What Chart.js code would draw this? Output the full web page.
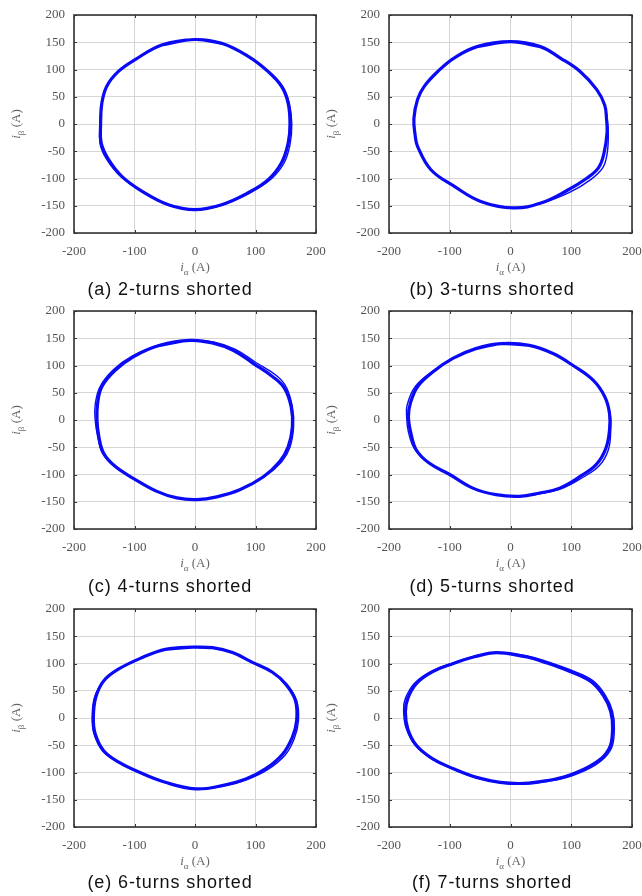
<!DOCTYPE html>
<html>
<head>
<meta charset="utf-8">
<script src="https://cdn.jsdelivr.net/npm/chart.js@4.4.1/dist/chart.umd.min.js"></script>
<style>
  body { margin: 0; background: #fff; width: 642px; height: 896px; position: relative; overflow: hidden; }
  .box { position: absolute; }
  .cap { position: absolute; font-family: "Liberation Sans", Arial, sans-serif; font-size: 18px; color: #111;
         letter-spacing: 0.9px; white-space: nowrap; transform: translateX(-50%); }
  .xt { position: absolute; font-family: "Liberation Serif", serif; font-size: 13px; color: #666;
        white-space: nowrap; transform: translateX(-50%); }
  .yt { position: absolute; font-family: "Liberation Serif", serif; font-size: 13px; color: #666;
        white-space: nowrap; transform: translate(-50%, -50%) rotate(-90deg); }
  sub { font-size: 9px; vertical-align: -4px; }
</style>
</head>
<body>
<div class="box" id="wa"><canvas id="ca"></canvas></div>
<div class="box" id="wb"><canvas id="cb"></canvas></div>
<div class="box" id="wc"><canvas id="cc"></canvas></div>
<div class="box" id="wd"><canvas id="cd"></canvas></div>
<div class="box" id="we"><canvas id="ce"></canvas></div>
<div class="box" id="wf"><canvas id="cf"></canvas></div>
<script>
// tick values shared by every panel
const tickValues = [-200, -150, -100, -50, 0, 50, 100, 150, 200];
const xTickValues = [-200, -100, 0, 100, 200];

const captions = ['(a) 2-turns shorted', '(b) 3-turns shorted', '(c) 4-turns shorted',
                  '(d) 5-turns shorted', '(e) 6-turns shorted', '(f) 7-turns shorted'];

// i_alpha / i_beta current locus
// second arrays = an adjacent cycle, only differs where the band spreads
const alphaA  = [0, -55, -99, -127, -146, -154, -156, -155, -143, -121, -88, -44, 0, 44, 88, 121, 143, 154, 157, 154, 143, 121, 88, 44, 0];
const betaA   = [155, 145, 118, 96, 69, 38, 0, -35, -65, -96, -123, -148, -157, -148, -126, -102, -71, -35, 0, 38, 69, 96, 124, 148, 155];
const alphaA2 = [0, -55, -99, -127, -146, -154, -157, -157, -147, -124, -90, -44, 0, 44, 90, 125, 147, 157, 160, 156, 145, 122, 88, 44, 0];
const betaA2  = [155, 145, 118, 96, 69, 38, 0, -36, -63, -95, -122, -149, -157, -149, -127, -102, -72, -38, 0, 38, 69, 96, 124, 148, 155];

const alphaB  = [0, -55, -93, -120, -142, -153, -159, -157, -153, -131, -93, -49, 5, 50, 93, 125, 145, 154, 159, 158, 155, 142, 115, 82, 49, 0];
const betaB   = [151, 142, 121, 96, 69, 45, 10, -20, -41, -84, -114, -142, -154, -145, -122, -100, -80, -53, -15, 10, 35, 63, 96, 121, 142, 151];
const alphaB2 = [0, -55, -93, -120, -142, -153, -159, -157, -153, -131, -93, -49, 5, 52, 98, 132, 152, 159, 161, 159, 155, 142, 115, 82, 49, 0];
const betaB2  = [151, 142, 121, 96, 69, 45, 10, -20, -41, -84, -114, -142, -154, -145, -125, -102, -80, -55, -20, 10, 35, 63, 96, 121, 142, 151];

const alphaC  = [-8, -58, -102, -132, -154, -161, -162, -159, -151, -132, -102, -63, -30, 3, 36, 74, 113, 140, 154, 161, 159, 148, 129, 96, 63, 30, -8];
const betaC   = [146, 137, 116, 91, 61, 30, 0, -30, -61, -85, -107, -131, -143, -146, -141, -128, -104, -76, -49, -12, 24, 58, 79, 104, 128, 141, 146];
const alphaC2 = [-8, -58, -104, -135, -157, -165, -165, -161, -153, -134, -102, -63, -30, 3, 36, 74, 115, 143, 157, 163, 161, 151, 134, 100, 66, 32, -8];
const betaC2  = [146, 138, 117, 92, 61, 28, 0, -30, -61, -85, -107, -131, -143, -146, -141, -128, -104, -77, -50, -12, 24, 60, 82, 106, 130, 143, 146];

const alphaD  = [-15, -57, -95, -128, -153, -165, -168, -164, -155, -134, -100, -62, -24, 15, 48, 81, 114, 141, 157, 163, 163, 155, 136, 103, 70, 31, -15];
const betaD   = [140, 131, 113, 88, 61, 30, 6, -24, -55, -79, -100, -125, -137, -140, -134, -125, -104, -82, -52, -18, 12, 43, 73, 100, 122, 137, 140];
const alphaD2 = [-15, -57, -95, -130, -157, -170, -171, -168, -158, -136, -100, -62, -24, 15, 50, 84, 118, 146, 161, 165, 164, 155, 136, 103, 70, 31, -15];
const betaD2  = [140, 131, 113, 88, 61, 28, 6, -22, -53, -78, -100, -125, -137, -140, -135, -126, -106, -84, -55, -20, 12, 43, 73, 100, 122, 137, 140];

const alphaE  = [-4, -49, -87, -126, -151, -164, -168, -165, -151, -126, -93, -49, 1, 45, 84, 117, 145, 161, 168, 166, 150, 128, 95, 62, 29, -4];
const betaE   = [130, 126, 111, 90, 68, 38, 1, -29, -60, -81, -99, -118, -130, -124, -112, -93, -66, -35, -5, 32, 62, 84, 102, 120, 129, 130];
const alphaE2 = [-4, -49, -87, -126, -151, -166, -170, -167, -153, -127, -93, -49, 1, 45, 86, 120, 149, 164, 171, 168, 152, 129, 95, 62, 29, -4];
const betaE2  = [130, 126, 111, 90, 68, 38, 1, -29, -60, -81, -99, -118, -130, -125, -113, -95, -68, -38, -5, 32, 62, 84, 102, 120, 129, 130];

const alphaF  = [-23, -61, -94, -128, -155, -169, -173, -169, -155, -128, -94, -56, -17, 22, 60, 94, 137, 162, 168, 165, 153, 132, 94, 60, 27, -23];
const betaF   = [120, 112, 100, 85, 63, 36, 11, -20, -50, -75, -93, -109, -118, -120, -115, -106, -84, -57, -20, 12, 41, 67, 87, 101, 112, 120];
const alphaF2 = [-23, -61, -94, -130, -158, -173, -176, -172, -157, -129, -94, -56, -17, 22, 62, 96, 140, 165, 171, 168, 156, 135, 97, 62, 28, -23];
const betaF2  = [120, 113, 101, 86, 64, 36, 14, -18, -50, -75, -94, -110, -119, -121, -116, -108, -86, -58, -20, 12, 42, 69, 89, 103, 114, 120];

const series = [
  [alphaA, betaA, alphaA2, betaA2], [alphaB, betaB, alphaB2, betaB2],
  [alphaC, betaC, alphaC2, betaC2], [alphaD, betaD, alphaD2, betaD2],
  [alphaE, betaE, alphaE2, betaE2], [alphaF, betaF, alphaF2, betaF2]
];

// panel plot-area layout (page pixels)
const plotLefts = [74, 389];
const plotWidths = [242, 243];
const plotTops = [15, 311, 609];
const plotH = 218;
const captionY = [279, 576, 872];
const captionX = [170, 492];

const Y_W = 52, X_H = 28, PAD_T = 8, PAD_R = 14;
const tickFont = { family: '"Liberation Serif", "DejaVu Serif", serif', size: 13 };

// MATLAB-style closed box with small inward ticks
const boxPlugin = {
  id: 'box',
  afterDraw(chart) {
    const a = chart.chartArea, c = chart.ctx;
    const sx = chart.scales.x, sy = chart.scales.y;
    c.save();
    c.strokeStyle = '#333';
    c.lineWidth = 1;
    c.beginPath();
    xTickValues.forEach(v => {
      const p = Math.round(sx.getPixelForValue(v)) + 0.5;
      c.moveTo(p, a.bottom); c.lineTo(p, a.bottom - 3);
      c.moveTo(p, a.top); c.lineTo(p, a.top + 3);
    });
    tickValues.forEach(v => {
      const p = Math.round(sy.getPixelForValue(v)) + 0.5;
      c.moveTo(a.left, p); c.lineTo(a.left + 3, p);
      c.moveTo(a.right, p); c.lineTo(a.right - 3, p);
    });
    c.stroke();
    c.lineWidth = 1.6;
    c.strokeRect(a.left, a.top, a.right - a.left, a.bottom - a.top);
    c.restore();
  }
};

const ids = ['a', 'b', 'c', 'd', 'e', 'f'];
ids.forEach((id, i) => {
  const col = i % 2, row = Math.floor(i / 2);
  const pl = plotLefts[col], pw = plotWidths[col], pt = plotTops[row];
  const wrap = document.getElementById('w' + id);
  const cv = document.getElementById('c' + id);
  const W = Y_W + pw + PAD_R, H = PAD_T + plotH + X_H;
  wrap.style.left = (pl - Y_W) + 'px';
  wrap.style.top = (pt - PAD_T) + 'px';
  cv.width = W; cv.height = H;

  const [al, be, al2, be2] = series[i];
  // closed loop: repeat the neighbours of the start point at both ends so the spline has no corner there
  const line = (xs, ys, w) => {
    const pts = xs.map((a, k) => ({ x: a, y: ys[k] }));
    const n = pts.length;
    return {
      data: [pts[n - 2], ...pts, pts[1]],
      showLine: true,
      borderColor: '#0a0af5',
      borderWidth: w,
      pointRadius: 0,
      tension: 0.4,
      fill: false
    };
  };
  new Chart(cv.getContext('2d'), {
    type: 'scatter',
    data: { datasets: [line(al2, be2, 1.4), line(al, be, 3.2)] },
    options: {
      responsive: false,
      animation: false,
      layout: { padding: { top: PAD_T, right: PAD_R, left: 0, bottom: 0 } },
      plugins: { legend: { display: false }, tooltip: { enabled: false } },
      scales: {
        x: {
          min: -200, max: 200,
          afterFit: s => { s.height = X_H; s.paddingLeft = 0; s.paddingRight = 0; },
          afterBuildTicks: s => { s.ticks = xTickValues.map(v => ({ value: v })); },
          grid: { color: '#d6d6d6', lineWidth: 1, drawTicks: false },
          border: { display: false },
          ticks: { padding: 11, maxRotation: 0, color: '#555', font: tickFont,
                   callback: v => String(v) }
        },
        y: {
          min: -200, max: 200,
          afterFit: s => { s.width = Y_W; s.paddingTop = 0; s.paddingBottom = 0; },
          afterBuildTicks: s => { s.ticks = tickValues.map(v => ({ value: v })); },
          grid: { color: '#d6d6d6', lineWidth: 1, drawTicks: false },
          border: { display: false },
          ticks: { padding: 9, color: '#555', font: tickFont,
                   callback: v => String(v) }
        }
      }
    },
    plugins: [boxPlugin]
  });

  // axis titles and caption
  const zeroX = pl + pw / 2;
  const xt = document.createElement('div');
  xt.className = 'xt';
  xt.innerHTML = '<i>i</i><sub>α</sub> (A)';
  xt.style.left = zeroX + 'px';
  xt.style.top = (pt + plotH + 26) + 'px';
  document.body.appendChild(xt);

  const yt = document.createElement('div');
  yt.className = 'yt';
  yt.innerHTML = '<i>i</i><sub>β</sub> (A)';
  yt.style.left = (pl - 57) + 'px';
  yt.style.top = (pt + plotH / 2) + 'px';
  document.body.appendChild(yt);

  const cap = document.createElement('div');
  cap.className = 'cap';
  cap.textContent = captions[i];
  cap.style.left = captionX[col] + 'px';
  cap.style.top = captionY[row] + 'px';
  document.body.appendChild(cap);
});
</script>
</body>
</html>
